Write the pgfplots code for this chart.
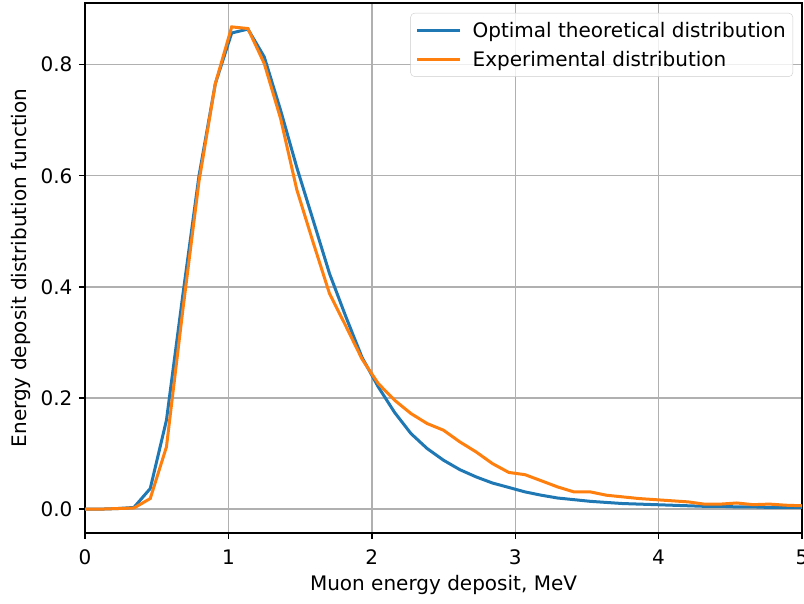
\documentclass[border=0pt]{standalone}
\usepackage{pgfplots}
\pgfplotsset{compat=1.18}
\usepackage{fontspec}
\setmainfont{DejaVu Sans}
\definecolor{mblue}{HTML}{1F77B4}
\definecolor{morange}{HTML}{FF7F0E}
\definecolor{mgrid}{HTML}{B0B0B0}
\definecolor{mframe}{HTML}{CCCCCC}
\begin{document}
\begin{tikzpicture}[font=\fontsize{20}{24}\selectfont]
\path[use as bounding box] (0,0) rectangle (804pt,604pt);
\begin{axis}[
  at={(85pt,71pt)}, anchor=south west,
  scale only axis, width=717pt, height=530pt,
  xmin=0, xmax=5, ymin=-0.043, ymax=0.911,
  xtick={0,1,2,3,4,5},
  ytick={0,0.2,0.4,0.6,0.8},
  y tick label style={/pgf/number format/fixed, /pgf/number format/fixed zerofill, /pgf/number format/precision=1, xshift=-3pt},
  x tick label style={yshift=-7pt},
  tick label style={font=\fontsize{20}{24}\selectfont},
  label style={font=\fontsize{20}{24}\selectfont},
  /pgf/number format/assume math mode=true,
  tick pos=left, tick align=outside,
  major tick length=6pt,
  every tick/.style={black, line width=1.4pt},
  axis line style={black, line width=1.4pt},
  grid=major,
  major grid style={mgrid, line width=1.4pt},
  xlabel={Muon energy deposit, MeV},
  ylabel={Energy deposit distribution function},
  every axis x label/.style={at={(axis description cs:0.5,-0.098)}, anchor=center},
  every axis y label/.style={at={(axis description cs:-0.0893,0.5)}, rotate=90, anchor=center},
  legend cell align=left,
  legend style={at={(axis description cs:1,1)}, anchor=north east, xshift=-9pt, yshift=-10pt,
    draw=mframe, rounded corners=4pt, fill=white, fill opacity=0.8, text opacity=1, draw opacity=1,
    inner xsep=5pt, inner ysep=7pt, row sep=8pt, font=\fontsize{20}{24}\selectfont},
  legend image code/.code={\draw[#1, line width=3pt, opacity=1] (0pt,0pt) -- (43pt,0pt);},
]
\addplot[mblue, line width=3pt] coordinates {
(0.000,0.000) (0.114,0.000) (0.227,0.001) (0.341,0.003) (0.455,0.037)
(0.568,0.160) (0.682,0.385) (0.795,0.600) (0.909,0.766) (1.023,0.857)
(1.136,0.864) (1.250,0.814) (1.364,0.718) (1.477,0.615) (1.591,0.520)
(1.705,0.424) (1.818,0.347) (1.932,0.273) (2.045,0.220) (2.159,0.174)
(2.273,0.136) (2.386,0.109) (2.500,0.088) (2.614,0.071) (2.727,0.058)
(2.841,0.047) (2.955,0.039) (3.068,0.031) (3.182,0.025) (3.295,0.020)
(3.409,0.017) (3.523,0.014) (3.636,0.012) (3.750,0.010) (3.864,0.009)
(3.977,0.008) (4.091,0.007) (4.205,0.006) (4.318,0.005) (4.432,0.005)
(4.545,0.004) (4.659,0.004) (4.773,0.003) (4.886,0.003) (5.000,0.003)
};
\addlegendentry{\hspace{9pt}Optimal theoretical distribution}
\addplot[morange, line width=3pt] coordinates {
(0.000,0.000) (0.114,0.000) (0.227,0.001) (0.341,0.002) (0.455,0.019)
(0.568,0.112) (0.682,0.358) (0.795,0.590) (0.909,0.766) (1.023,0.868)
(1.136,0.865) (1.250,0.802) (1.364,0.703) (1.477,0.575) (1.591,0.480)
(1.705,0.388) (1.818,0.330) (1.932,0.270) (2.045,0.226) (2.159,0.196)
(2.273,0.172) (2.386,0.154) (2.500,0.142) (2.614,0.121) (2.727,0.103)
(2.841,0.082) (2.955,0.066) (3.068,0.062) (3.182,0.051) (3.295,0.040)
(3.409,0.031) (3.523,0.031) (3.636,0.025) (3.750,0.022) (3.864,0.019)
(3.977,0.017) (4.091,0.015) (4.205,0.013) (4.318,0.009) (4.432,0.009)
(4.545,0.011) (4.659,0.008) (4.773,0.009) (4.886,0.007) (5.000,0.006)
};
\addlegendentry{\hspace{9pt}Experimental distribution}
\end{axis}
\end{tikzpicture}
\end{document}
